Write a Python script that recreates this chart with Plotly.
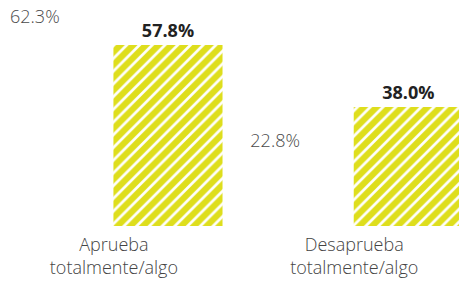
import plotly.graph_objects as go

categories = ["Aprueba<br>totalmente/algo", "Desaprueba<br>totalmente/algo"]
series_prev = [62.3, 22.8]
series_curr = [57.8, 38.0]

x = list(range(len(categories)))

fig = go.Figure()
fig.add_trace(go.Bar(
    x=x, y=series_prev,
    width=0.454, offset=-0.502,
    marker=dict(color="rgba(255,255,255,0)", line=dict(width=0)),
    text=[f"{v:.1f}%" for v in series_prev],
    textposition="outside",
    textfont=dict(family="Open Sans", size=18, color="#4a4a4a", weight=300),
    cliponaxis=False,
    showlegend=False,
))
fig.add_trace(go.Bar(
    x=x, y=series_curr,
    width=0.454, offset=0.052,
    marker=dict(
        color="#dede1c",
        line=dict(width=0),
        pattern=dict(shape="/", bgcolor="#ffffff", fgcolor="#dede1c",
                     fgopacity=1, size=9, solidity=0.7),
    ),
    text=[f"{v:.1f}%" for v in series_curr],
    textposition="outside",
    textfont=dict(family="Open Sans", size=18, color="#222222", weight=700),
    cliponaxis=False,
    showlegend=False,
))

fig.update_layout(
    width=459, height=281,
    margin=dict(l=0, r=0, t=0, b=55, autoexpand=False),
    paper_bgcolor="white", plot_bgcolor="white",
    barmode="overlay",
    xaxis=dict(
        range=[-0.42, 1.49],
        tickvals=x, ticktext=categories,
        showgrid=False, zeroline=False, showline=False,
        ticks="", ticklabelshift=13, ticklabelstandoff=6,
        tickfont=dict(family="Open Sans", size=18, color="#444444", weight=300),
        fixedrange=True, automargin=False,
    ),
    yaxis=dict(
        range=[0, 72.2], visible=False, fixedrange=True, automargin=False,
    ),
)

fig.write_html("out.html", config={"displayModeBar": False},
               post_script="document.body.style.margin='0px';")
